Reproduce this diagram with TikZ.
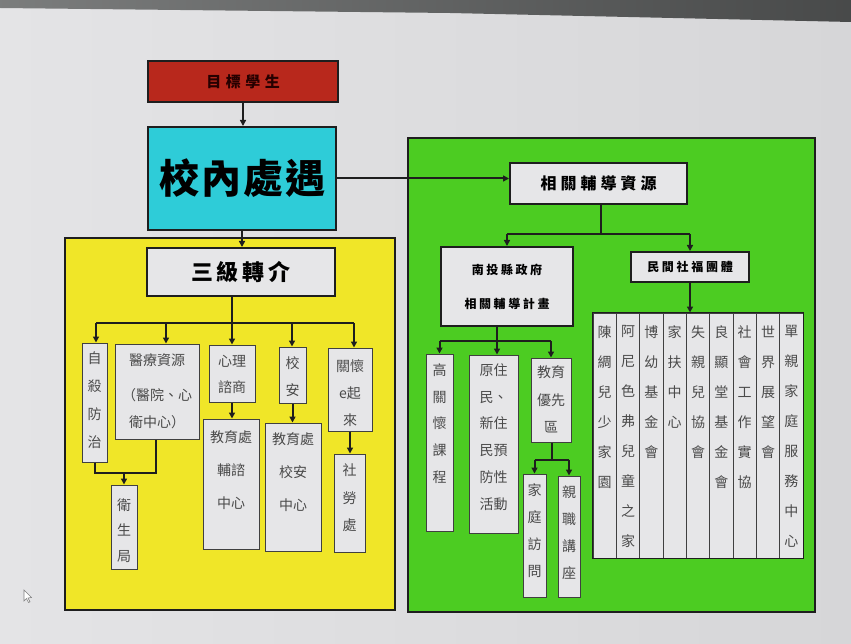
\documentclass[tikz,border=0pt]{standalone}
\usepackage{fontspec}
\setmainfont{Noto Sans CJK TC}
\usetikzlibrary{arrows.meta}
\definecolor{bg}{HTML}{E4E4E6}
\definecolor{bgr}{HTML}{D6D6D8}
\definecolor{redb}{HTML}{B8281C}
\definecolor{cyanb}{HTML}{2ECCD8}
\definecolor{yel}{HTML}{F0E628}
\definecolor{grn}{HTML}{4CCC22}
\definecolor{boxf}{HTML}{E6E6E8}
\definecolor{txt}{HTML}{4A4A4A}
\definecolor{edge}{HTML}{1E1E1E}
\definecolor{topband}{HTML}{5A5C5C}
\begin{document}
\begin{tikzpicture}[x=1pt,y=-1pt,
  panel/.style={draw=edge,line width=1.4pt},
  tbox/.style={draw=edge,line width=2pt,fill=boxf,inner sep=0pt},
  sbox/.style={draw=edge!85,line width=1pt,fill=boxf,inner sep=0pt},
  vt/.style={anchor=north,yshift=#1,inner sep=0pt,align=center,text=txt},
  conn/.style={draw=edge,line width=2pt},
  arr/.style={conn,-{Triangle[length=6pt,width=6pt]}},
]
\useasboundingbox (0,0) rectangle (851,644);
\shade[left color=bg,right color=bgr] (0,0) rectangle (851,644);
\shade[left color=topband!80!white,right color=topband!80!black]
  (0,0) -- (851,0) -- (851,22) -- (450,13) -- (0,8) -- cycle;

% mouse pointer
\draw[gray,line width=0.6pt,fill=white] (24,590) -- (24,601) -- (26.5,598.5) -- (28.5,602.5) -- (30,601.8)
  -- (28,598) -- (31.5,597.5) -- cycle;

% panels
\draw[panel,fill=yel] (65,238) rectangle (395,610);
\draw[panel,fill=grn] (408,138) rectangle (815,612);

% title boxes
\node[draw=edge,line width=2pt,fill=redb,minimum width=190pt,minimum height=41pt,inner sep=0pt,
  font=\bfseries\fontsize{15}{18}\selectfont,text=black!85!red] (red) at (243,81.5)
  {目\kern4.5pt 標\kern4.5pt 學\kern4.5pt 生};
\node[draw=edge,line width=2pt,fill=cyanb,minimum width=188pt,minimum height=103pt,inner sep=0pt,
  font=\bfseries\fontsize{40}{44}\selectfont,text=black] (cyan) at (242,178.5)
  {校\kern2pt 內\kern2pt 處\kern2pt 遇};
\node[tbox,minimum width=188pt,minimum height=48pt,font=\bfseries\fontsize{22}{26}\selectfont]
  (sanji) at (241,272) {三\kern4pt 級\kern4pt 轉\kern4pt 介};
\node[tbox,minimum width=177pt,minimum height=41pt,font=\bfseries\fontsize{16}{20}\selectfont]
  (xg) at (598.5,183.5) {相\kern4pt 關\kern4pt 輔\kern4pt 導\kern4pt 資\kern4pt 源};
\node[tbox,minimum width=132pt,minimum height=79pt,align=center,
  font=\bfseries\fontsize{12}{34}\selectfont]
  (nantou) at (507,286.5) {南\kern2.6pt 投\kern2.6pt 縣\kern2.6pt 政\kern2.6pt 府\\
  相\kern2.6pt 關\kern2.6pt 輔\kern2.6pt 導\kern2.6pt 計\kern2.6pt 畫};
\node[tbox,minimum width=118pt,minimum height=30pt,font=\bfseries\fontsize{12}{16}\selectfont]
  (minjian) at (690,267) {民\kern2.7pt 間\kern2.7pt 社\kern2.7pt 福\kern2.7pt 團\kern2.7pt 體};

% left small boxes
\node[sbox,minimum width=25pt,minimum height=119pt,
  label={[vt=-9pt,font=\fontsize{14}{28}\selectfont]north:{自\\殺\\防\\治}}] (zisha) at (94.5,402.5) {};
\node[sbox,minimum width=84pt,minimum height=95pt,
  label={[vt=-10pt,font=\fontsize{14}{27}\selectfont]north:{醫療資源\\[8pt]（醫院、心\\衛中心）}}] (yiliao) at (157,391.5) {};
\node[sbox,minimum width=46pt,minimum height=57pt,
  label={[vt=-11pt,font=\fontsize{14}{26}\selectfont]north:{心理\\諮商}}] (xinli) at (232,373.5) {};
\node[sbox,minimum width=27pt,minimum height=56pt,
  label={[vt=-10pt,font=\fontsize{14}{27}\selectfont]north:{校\\安}}] (xiaoan) at (292.5,375) {};
\node[sbox,minimum width=44pt,minimum height=83pt,
  label={[vt=-12pt,font=\fontsize{14}{27}\selectfont]north:{關懷\\e起\\來}}] (guanhuai) at (350,389.5) {};
\node[sbox,minimum width=26pt,minimum height=84pt,
  label={[vt=-14pt,font=\fontsize{14}{25.5}\selectfont]north:{衛\\生\\局}}] (weisheng) at (124,527) {};
\node[sbox,minimum width=56pt,minimum height=130pt,
  label={[vt=-12pt,font=\fontsize{14}{33}\selectfont]north:{教育處\\輔諮\\中心}}] (jy1) at (231,484) {};
\node[sbox,minimum width=56pt,minimum height=128pt,
  label={[vt=-10pt,font=\fontsize{14}{33}\selectfont]north:{教育處\\校安\\中心}}] (jy2) at (293,487) {};
\node[sbox,minimum width=31pt,minimum height=98pt,
  label={[vt=-10pt,font=\fontsize{14}{27.5}\selectfont]north:{社\\勞\\處}}] (shelao) at (349.5,503) {};

% green small boxes
\node[sbox,minimum width=27pt,minimum height=177pt,
  label={[vt=-10pt,font=\fontsize{14}{26.7}\selectfont]north:{高\\關\\懷\\課\\程}}] (gao) at (439.5,442.5) {};
\node[sbox,minimum width=49pt,minimum height=178pt,
  label={[vt=-9pt,font=\fontsize{14}{26.7}\selectfont]north:{原住\\民、\\新住\\民預\\防性\\活動}}] (yuan) at (493.5,444) {};
\node[sbox,minimum width=40pt,minimum height=84pt,
  label={[vt=-8pt,font=\fontsize{14}{27.5}\selectfont]north:{教育\\優先\\區}}] (jyy) at (551,400) {};
\node[sbox,minimum width=23pt,minimum height=123pt,
  label={[vt=-10pt,font=\fontsize{14}{27}\selectfont]north:{家\\庭\\訪\\問}}] (jiating) at (534.5,535.5) {};
\node[sbox,minimum width=22pt,minimum height=121pt,
  label={[vt=-10pt,font=\fontsize{14}{27}\selectfont]north:{親\\職\\講\\座}}] (qinzhi) at (569,536.5) {};

% table of organisations
\foreach \i/\t in {1/{陳\\綢\\兒\\少\\家\\園},2/{阿\\尼\\色\\弗\\兒\\童\\之\\家},3/{博\\幼\\基\\金\\會},
  4/{家\\扶\\中\\心},5/{失\\親\\兒\\協\\會},6/{良\\顯\\堂\\基\\金\\會},7/{社\\會\\工\\作\\實\\協},
  8/{世\\界\\展\\望\\會},9/{單\\親\\家\\庭\\服\\務\\中\\心}}{
  \node[sbox,minimum width=23.33pt,minimum height=245pt,
    label={[vt=-13pt,font=\fontsize{14}{30}\selectfont]north:{\t}}] (t\i) at ({593+23.333*(\i-0.5)},435.5) {};
}
\draw[draw=edge,line width=1.2pt] (t1.north west) rectangle (t9.south east);

% connectors: top
\draw[arr] (red.south) -- (red.south |- cyan.north);
\draw[arr] (cyan.east) -- (cyan.east -| xg.west);
\draw[arr] (cyan.south) -- (cyan.south |- sanji.north);

% left tree
\coordinate (d1) at (96,323);
\coordinate (d2) at (166,323);
\coordinate (d3) at (232,323);
\coordinate (d4) at (292,323);
\coordinate (d5) at (354,323);
\draw[conn] (d3 |- sanji.south) -- (d3);
\draw[conn] (d1) -- (d5);
\draw[arr] (d1) -- (d1 |- zisha.north);
\draw[arr] (d2) -- (d2 |- yiliao.north);
\draw[arr] (d3) -- (d3 |- xinli.north);
\draw[arr] (d4) -- (d4 |- xiaoan.north);
\draw[arr] (d5) -- (d5 |- guanhuai.north);
\coordinate (w2) at (156,473);
\draw[conn] (zisha.south) |- (w2) -- (w2 |- yiliao.south);
\draw[arr] (weisheng.north |- w2) -- (weisheng.north);
\draw[arr] (xinli.south) -- (xinli.south |- jy1.north);
\draw[arr] (xiaoan.south) -- (xiaoan.south |- jy2.north);
\draw[arr] (guanhuai.south) -- (guanhuai.south |- shelao.north);

% right tree
\coordinate (rb) at (601,234);
\draw[conn] (rb |- xg.south) -- (rb);
\draw[conn] (nantou.north |- rb) -- (minjian.north |- rb);
\draw[arr] (nantou.north |- rb) -- (nantou.north);
\draw[arr] (minjian.north |- rb) -- (minjian.north);
\draw[arr] (minjian.south) -- (minjian.south |- t1.north);
\coordinate (nb) at (497,341);
\draw[conn] (nb |- nantou.south) -- (nb);
\draw[conn] (gao.north |- nb) -- (jyy.north |- nb);
\draw[arr] (gao.north |- nb) -- (gao.north);
\draw[arr] (nb) -- (nb |- yuan.north);
\draw[arr] (jyy.north |- nb) -- (jyy.north);
\coordinate (jb) at (552,460);
\draw[conn] (jb |- jyy.south) -- (jb);
\draw[conn] (jiating.north |- jb) -- (qinzhi.north |- jb);
\draw[arr] (jiating.north |- jb) -- (jiating.north);
\draw[arr] (qinzhi.north |- jb) -- (qinzhi.north);
\end{tikzpicture}
\end{document}
